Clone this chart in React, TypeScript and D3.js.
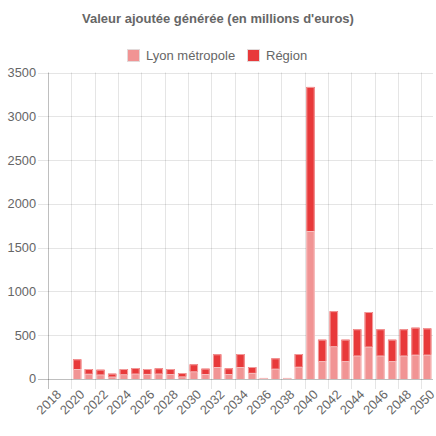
import React, { useEffect, useRef } from "react";
import * as d3 from "d3";

const years = d3.range(2018, 2051).map(String);

const lyonValues = [
  0, 0, 114, 60, 52, 28, 55, 62, 58, 62, 57, 30, 88, 57, 137, 57, 137, 70, 12,
  118, 12, 140, 1690, 205, 375, 205, 268, 370, 268, 205, 268, 278, 278,
];

const regionValues = [
  0, 0, 111, 54, 54, 33, 59, 63, 56, 60, 57, 38, 80, 61, 145, 65, 148, 67, 0,
  118, 0, 145, 1645, 244, 400, 244, 300, 395, 300, 244, 300, 308, 300,
];

const yTicks = [0, 500, 1000, 1500, 2000, 2500, 3000, 3500];

const seriesNames = ["Lyon métropole", "Région"];
const title = "Valeur ajoutée générée (en millions d'euros)";

export default function App() {
  const svgRef = useRef<SVGSVGElement>(null);

  useEffect(() => {
    const width = 436;
    const height = 436;
    const font = "'Liberation Sans', Arial, Helvetica, sans-serif";
    const svg = d3.select(svgRef.current);
    svg.selectAll("*").remove();
    svg.attr("width", width).attr("height", height);

    const left = 48;
    const right = 433;
    const top = 72.5;
    const bottom = 379;

    const x = d3.scaleBand().domain(years).range([left, right]).padding(0);
    const y = d3.scaleLinear().domain([0, 3500]).range([bottom, top]);
    const barW = x.bandwidth() * 0.72;

    // titre
    svg
      .append("text")
      .attr("x", 218)
      .attr("y", 22.5)
      .attr("text-anchor", "middle")
      .attr("font-family", font)
      .attr("font-size", "13px")
      .attr("font-weight", "bold")
      .attr("fill", "#666")
      .text(title);

    // légende
    const colors = ["#f19494", "#e8393a"];
    const legendX = [127, 247];
    seriesNames.forEach((name, i) => {
      svg
        .append("rect")
        .attr("x", legendX[i] + 0.5)
        .attr("y", 49.5)
        .attr("width", 12)
        .attr("height", 12)
        .attr("fill", colors[i])
        .attr("stroke", "#e3dada")
        .attr("stroke-width", 1);
      svg
        .append("text")
        .attr("x", legendX[i] + 19)
        .attr("y", 59.5)
        .attr("font-family", font)
        .attr("font-size", "13px")
        .attr("fill", "#666")
        .text(name);
    });

    // grille horizontale
    yTicks.forEach((t) => {
      svg
        .append("line")
        .attr("x1", left - 10)
        .attr("x2", right)
        .attr("y1", Math.round(y(t)) + 0.5)
        .attr("y2", Math.round(y(t)) + 0.5)
        .attr("stroke", t === 0 ? "rgba(0,0,0,0.25)" : "rgba(0,0,0,0.1)");
      svg
        .append("text")
        .attr("x", 36)
        .attr("y", y(t))
        .attr("dy", "0.35em")
        .attr("text-anchor", "end")
        .attr("font-family", font)
        .attr("font-size", "12.8px")
        .attr("fill", "#666")
        .text(t);
    });

    // grille verticale (une sur deux)
    years.forEach((yr, i) => {
      if (i % 2 !== 0) return;
      const gx = Math.round(x(yr)!) + 0.5;
      svg
        .append("line")
        .attr("x1", gx)
        .attr("x2", gx)
        .attr("y1", top)
        .attr("y2", bottom + 10)
        .attr("stroke", i === 0 ? "rgba(0,0,0,0.25)" : "rgba(0,0,0,0.1)");
      const cx = x(yr)! + x.bandwidth() / 2;
      svg
        .append("text")
        .attr("transform", `translate(${cx + 5},${bottom + 13}) rotate(-45)`)
        .attr("text-anchor", "end")
        .attr("dy", "0.35em")
        .attr("font-family", font)
        .attr("font-size", "12.8px")
        .attr("fill", "#666")
        .text(yr);
    });

    // barres empilées
    const stacked = years.map((yr, i) => ({
      year: yr,
      lyon: lyonValues[i],
      region: regionValues[i],
    }));
    const stack = d3.stack<any>().keys(["lyon", "region"])(stacked);
    const fills = ["#f19494", "#e8393a"];
    const borders = ["#f6c0c0", "#f29c9c"];

    stack.forEach((layer, k) => {
      layer.forEach((d) => {
        const h = y(d[0]) - y(d[1]);
        if (h <= 0) return;
        const bx = x(d.data.year)! + (x.bandwidth() - barW) / 2;
        const by = y(d[1]);
        svg
          .append("rect")
          .attr("x", bx)
          .attr("y", by)
          .attr("width", barW)
          .attr("height", h)
          .attr("fill", fills[k]);
        // bordure sauf en bas
        svg
          .append("path")
          .attr(
            "d",
            `M${bx + 0.5},${by + h}V${by + 0.5}H${bx + barW - 0.5}V${by + h}`
          )
          .attr("fill", "none")
          .attr("stroke", borders[k])
          .attr("stroke-width", 1);
      });
    });
  }, []);

  return (
    <div style={{ position: "absolute", left: 0, top: 0 }}>
      <svg ref={svgRef} style={{ display: "block" }} />
    </div>
  );
}
